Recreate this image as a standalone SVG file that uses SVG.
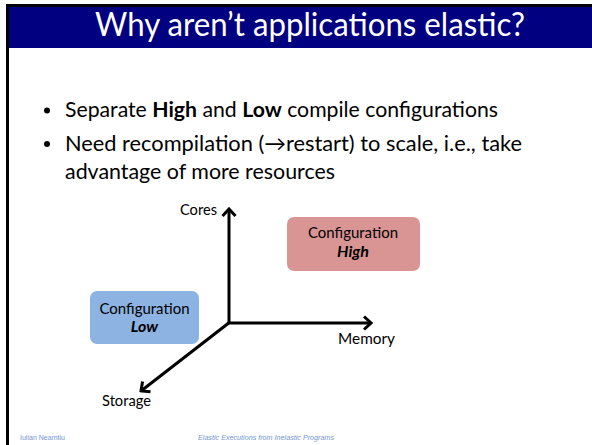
<svg xmlns="http://www.w3.org/2000/svg" width="592" height="445" viewBox="0 0 592 445">
  <style>
    .title { font-family: Lato, "Open Sans", "Liberation Sans", sans-serif; font-size: 33px; fill: #ffffff; }
    .body { font-family: Lato, "Open Sans", "Liberation Sans", sans-serif; font-size: 21px; fill: #000000; }
    .lbl { font-family: Lato, "Open Sans", "Liberation Sans", sans-serif; font-size: 16px; fill: #000000; }
    .foot { font-family: "Liberation Sans", Arial, sans-serif; font-size: 7px; fill: #7396d2; }
    .axis { stroke: #000000; stroke-width: 3; fill: none; }
  </style>
  <defs>
    <marker id="head" viewBox="-10 -8 12 16" markerWidth="12" markerHeight="16" refX="0" refY="0" orient="auto" markerUnits="userSpaceOnUse">
      <polyline points="-7,-6.5 0,0 -7,6.5" fill="none" stroke="#000" stroke-width="3" stroke-linecap="butt" stroke-linejoin="miter"/>
    </marker>
  </defs>

  <rect x="0" y="0" width="592" height="445" fill="#ffffff"/>

  <!-- slide frame and title bar -->
  <rect x="9" y="7" width="583" height="41" fill="#000080"/>
  <rect x="6" y="4" width="586" height="3" fill="#000000"/>
  <rect x="6" y="4" width="3" height="441" fill="#000000"/>
  <text class="title" x="310" y="36" text-anchor="middle" textLength="430" lengthAdjust="spacingAndGlyphs">Why aren’t applications elastic?</text>

  <!-- bullets -->
  <circle cx="47" cy="110.5" r="3" fill="#000"/>
  <text class="body" x="65" y="117" textLength="433" lengthAdjust="spacingAndGlyphs">Separate <tspan font-weight="bold">High</tspan> and <tspan font-weight="bold">Low</tspan> compile configurations</text>
  <circle cx="47" cy="144" r="3" fill="#000"/>
  <text class="body" x="65" y="150.5" textLength="457" lengthAdjust="spacingAndGlyphs">Need recompilation (→restart) to scale, i.e., take</text>
  <text class="body" x="65" y="179" textLength="270" lengthAdjust="spacingAndGlyphs">advantage of more resources</text>

  <!-- axes -->
  <g id="connectors">
    <line class="axis" x1="229" y1="324" x2="229" y2="209" marker-end="url(#head)"/>
    <line class="axis" x1="228" y1="323" x2="371" y2="323" marker-end="url(#head)"/>
    <line class="axis" x1="230" y1="322" x2="141" y2="391" marker-end="url(#head)"/>
  </g>

  <g id="axis-cores">
    <text class="lbl" x="180" y="215" textLength="37" lengthAdjust="spacingAndGlyphs">Cores</text>
  </g>
  <g id="axis-memory">
    <text class="lbl" x="338" y="344" textLength="57" lengthAdjust="spacingAndGlyphs">Memory</text>
  </g>
  <g id="axis-storage">
    <text class="lbl" x="102" y="406" textLength="49" lengthAdjust="spacingAndGlyphs">Storage</text>
  </g>

  <!-- configuration boxes -->
  <g id="config-high">
    <rect x="287" y="217" width="133" height="54" rx="7" fill="#d99594"/>
    <text class="lbl" x="353" y="238" text-anchor="middle" textLength="90" lengthAdjust="spacingAndGlyphs">Configuration</text>
    <text class="lbl" x="353" y="257" text-anchor="middle" font-weight="bold" font-style="italic">High</text>
  </g>
  <g id="config-low">
    <rect x="90" y="291" width="109" height="53" rx="7" fill="#8db3e2"/>
    <text class="lbl" x="144.5" y="314" text-anchor="middle" textLength="90" lengthAdjust="spacingAndGlyphs">Configuration</text>
    <text class="lbl" x="144.5" y="332" text-anchor="middle" font-weight="bold" font-style="italic">Low</text>
  </g>

  <!-- footer -->
  <text class="foot" x="20" y="440" textLength="45" lengthAdjust="spacingAndGlyphs">Iulian Neamtiu</text>
  <text class="foot" x="198" y="440" font-style="italic" textLength="136" lengthAdjust="spacingAndGlyphs">Elastic Executions from Inelastic Programs</text>
</svg>
